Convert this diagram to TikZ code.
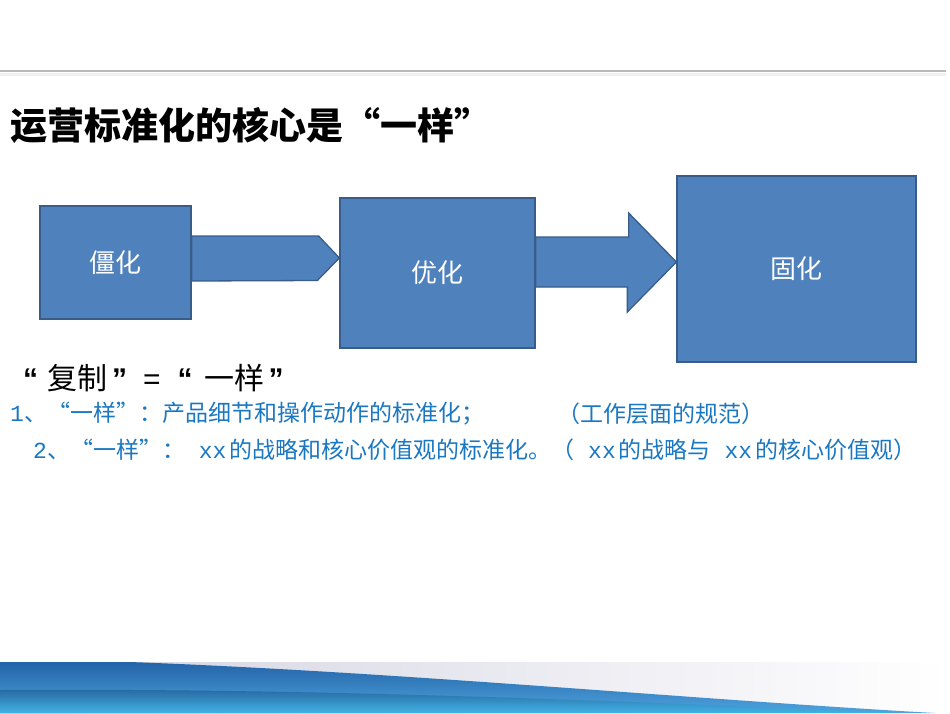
\documentclass[tikz,border=0pt]{standalone}
\usepackage{fontspec}
\usepackage{tikz}
\usetikzlibrary{calc}
\newfontfamily\cjk{Noto Sans CJK SC}
\newfontfamily\mono{Liberation Mono}
\newfontfamily\lsans{Liberation Sans}
\definecolor{boxfill}{HTML}{4F81BD}
\definecolor{boxline}{HTML}{385D8A}
\definecolor{noteblue}{HTML}{1A78C2}
\definecolor{wavedark}{HTML}{2364A8}
\definecolor{wavelight}{HTML}{4FA3DE}

\begin{document}
\begin{tikzpicture}[x=1pt,y=-1pt,
		stage/.style={rectangle,draw=boxline,line width=1.3pt,fill=boxfill,text=white,font=\cjk\fontsize{26}{26}\selectfont,inner sep=0pt},
		flow/.style={draw=boxline,line width=1.3pt,fill=boxfill,line join=miter},
		note/.style={anchor=west,text=noteblue,inner sep=0pt,font=\cjk\fontsize{23}{23}\selectfont}]
			\useasboundingbox (0,0) rectangle (950,713);
			\fill[white] (0,0) rectangle (950,713);
			% top rule
			\draw[gray!12,line width=3pt] (0,74) -- (946,74);
			\draw[gray!55,line width=1.6pt] (0,71) -- (946,71);
			% bottom band
			\shade[left color=blue!20!gray!30,right color=white] (0,662) rectangle (950,713);
			\shade[top color=wavedark,bottom color=wavelight] (0,662) -- (130,662) .. controls (400,672) and (700,700) .. (935,713) -- (0,713) -- cycle;
			\shade[top color=wavedark!80!black,bottom color=wavelight!70!cyan,opacity=0.6] (0,690) .. controls (300,688) and (600,700) .. (900,713) -- (0,713) -- cycle;
			% title
			\draw (10,125) node [anchor=west,inner sep=0pt,font=\cjk\bfseries\fontsize{37}{37}\selectfont] (title) {运营标准化的核心是“一样”};
			% stages
			\draw (115.5,262.5) node [stage,minimum width=151,minimum height=113] (1) {僵化};
			\draw (437.5,273) node [stage,minimum width=195,minimum height=150] (2) {优化};
			\draw (796.5,269) node [stage,minimum width=239,minimum height=186] (3) {固化};
			\draw[flow] ($(1.east)+(0,-26.5)$) -- ++(127,0) -- ($(2.west)+(0,-15)$) -- ++(-22,22.5) -- ($(1.east)+(0,18.5)$) -- cycle;
			\draw[flow] ($(2.east)+(0,-36)$) -- ++(93,0) -- ++(0,-24) -- ($(3.west)+(0,-7)$) -- ++(-49,50) -- ++(0,-25) -- ($(2.east)+(0,14)$) -- cycle;
			% notes
			\draw (23,378) node [anchor=west,inner sep=0pt,font=\cjk\fontsize{30}{30}\selectfont] (copy) {{\lsans\bfseries “}\hspace{9pt}复制\hspace{5pt}{\lsans\bfseries ”}\hspace{16pt}{\lsans =}\hspace{17pt}{\lsans\bfseries “}\hspace{12pt}一样\hspace{4pt}{\lsans\bfseries ”}};
			\draw (10,414) node [note] (n1) {{\mono 1}、“一样”：产品细节和操作动作的标准化；};
			\draw (557,414) node [note] (n1b) {（工作层面的规范）};
			\draw (33,450) node [note] (n2) {{\mono 2}、“一样”：{\mono\ xx}\hspace{3pt}的战略和核心价值观的标准化。（{\mono\ xx}\hspace{3pt}的战略与{\mono\ xx}\hspace{3pt}的核心价值观）};
		\end{tikzpicture}
\end{document}
